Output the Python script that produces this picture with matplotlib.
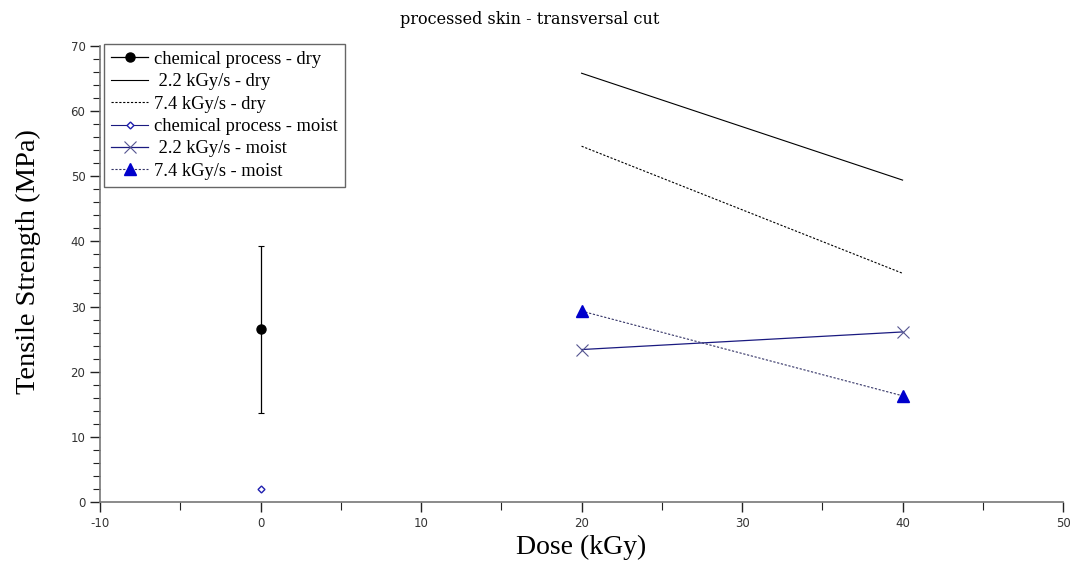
import numpy as np
import matplotlib
matplotlib.use("Agg")
import matplotlib.pyplot as plt
from matplotlib.ticker import MultipleLocator

# data
chem_x = [0]
chem_dry = [26.5]
chem_dry_err = [12.8]
chem_moist = [2.0]

dose = [20, 40]
dry_22 = [65.8, 49.4]
dry_74 = [54.6, 35.1]
moist_22 = [23.4, 26.1]
moist_74 = [29.3, 16.3]

plt.rcParams['axes.unicode_minus'] = False
serif = ['Liberation Serif', 'DejaVu Serif']
navy = '#1a1a80'

fig = plt.figure(figsize=(10.76, 5.66), dpi=100)
ax = fig.add_axes([0.093, 0.113, 0.895, 0.806])

ax.errorbar(chem_x, chem_dry, yerr=chem_dry_err, fmt='none', ecolor='black',
            elinewidth=0.9, capsize=2, capthick=0.8)
h1, = ax.plot(chem_x, chem_dry, color='black', marker='o', markersize=6.5, lw=0.9,
              label='chemical process - dry')
h2, = ax.plot(dose, dry_22, color='black', lw=0.8, label=' 2.2 kGy/s - dry')
h3, = ax.plot(dose, dry_74, color='black', lw=0.8, ls=(0, (2, 1.5)), label='7.4 kGy/s - dry')
h4, = ax.plot(chem_x, chem_moist, color=navy, lw=0.8, marker='D', markersize=3.5, mfc='white',
              mec='#2020b0', mew=1, label='chemical process - moist')
h5, = ax.plot(dose, moist_22, color=navy, lw=0.9, marker='x', markersize=9, mec='#555590', mew=0.8,
              label=' 2.2 kGy/s - moist')
h6, = ax.plot(dose, moist_74, color='#333366', lw=0.8, ls=(0, (2, 1.5)), marker='^', markersize=8,
              mfc='#0000cc', mec='#0000cc', label='7.4 kGy/s - moist')

ax.set_xlim(-10, 50)
ax.set_ylim(0, 70)
ax.xaxis.set_major_locator(MultipleLocator(10))
ax.xaxis.set_minor_locator(MultipleLocator(5))
ax.yaxis.set_major_locator(MultipleLocator(10))
ax.yaxis.set_minor_locator(MultipleLocator(2))
for s in ['top', 'right']:
    ax.spines[s].set_visible(False)
for s in ['left', 'bottom']:
    ax.spines[s].set_color('#777777')
    ax.spines[s].set_linewidth(1.2)
ax.tick_params(which='both', direction='out', color='#222222', labelcolor='#333333', labelsize=8.5)
ax.tick_params(which='major', length=7, width=1)
ax.tick_params(which='minor', length=6, width=0.8)
ax.tick_params(axis='y', which='minor', length=5)

fig.text(0.492, 0.966, 'processed skin - transversal cut', family=['DejaVu Serif'], fontsize=11.5,
         ha='center', va='center')
ax.set_xlabel('Dose (kGy)', family=serif, fontsize=20, labelpad=4)
ax.set_ylabel('Tensile Strength (MPa)', family=serif, fontsize=20.5)
ax.yaxis.set_label_coords(-0.061, 0.528)

leg = ax.legend(handles=[h1, h2, h3, h4, h5, h6], loc='upper left', bbox_to_anchor=(0.004, 1.005),
                prop={'family': serif, 'size': 13.3}, fancybox=False, framealpha=1,
                edgecolor='#666666', handlelength=2.0, handletextpad=0.3, labelspacing=0.29,
                borderpad=0.4, borderaxespad=0)
leg.get_frame().set_linewidth(1.0)

plt.savefig('out.png', dpi=100)
